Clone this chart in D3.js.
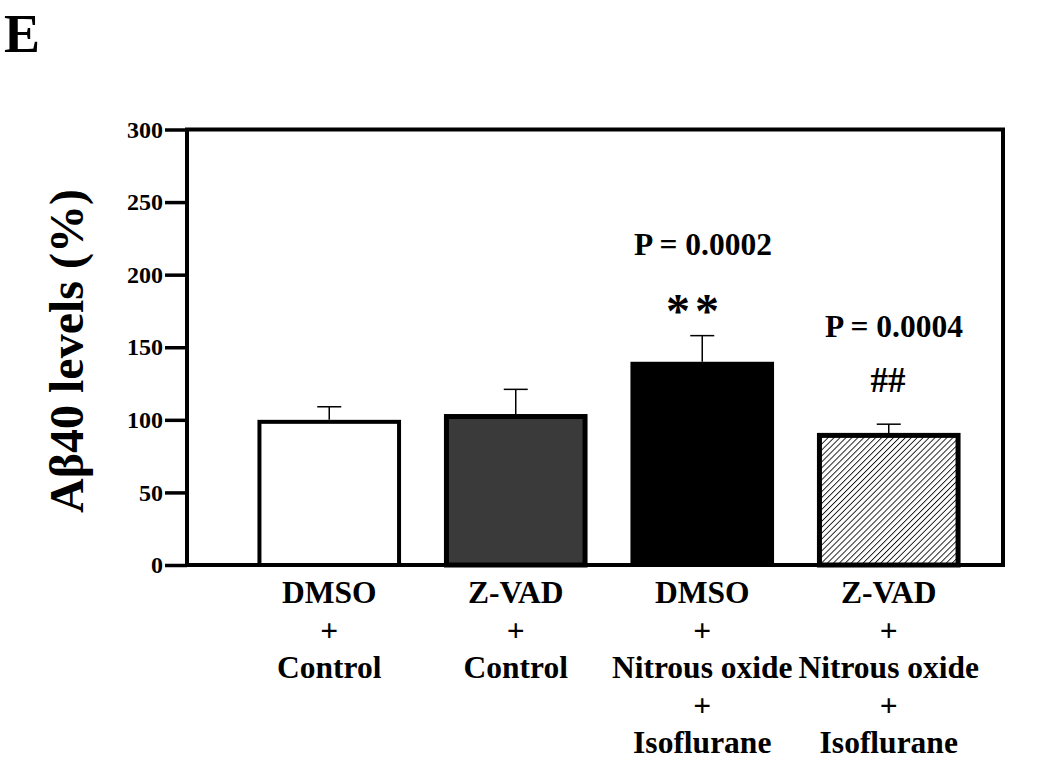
<!DOCTYPE html>
<html>
<head>
<meta charset="utf-8">
<script src="https://cdn.jsdelivr.net/npm/d3@7"></script>
<style>
  html, body { margin: 0; padding: 0; background: #fff; }
  svg text { font-family: "Liberation Serif", "Times New Roman", serif; font-weight: bold; fill: #000; }
</style>
</head>
<body>
<svg id="chart" width="1050" height="777"></svg>
<script>
// ---- data ----
const categories = ["DMSO+Control", "Z-VAD+Control", "DMSO+N2O+Iso", "Z-VAD+N2O+Iso"];
const categoryLabels = [
  ["DMSO", "+", "Control"],
  ["Z-VAD", "+", "Control"],
  ["DMSO", "+", "Nitrous oxide", "+", "Isoflurane"],
  ["Z-VAD", "+", "Nitrous oxide", "+", "Isoflurane"]
];
const means = [100, 104, 140, 91];
const errors = [9, 17, 18, 6];
const fills = ["#ffffff", "#3a3a3a", "#000000", "hatch"];
const pLabels = ["", "", "P = 0.0002", "P = 0.0004"];
const sigMarks = ["", "", "**", "##"];
const yTicks = [0, 50, 100, 150, 200, 250, 300];

// ---- layout ----
const svg = d3.select("#chart");
const frame = { left: 187, right: 1003, top: 129.5, bottom: 565 };

const y = d3.scaleLinear().domain([0, 300]).range([frame.bottom, frame.top]);
const x = d3.scaleBand().domain(categories).range([236, 982]).paddingInner(0.23).paddingOuter(0.115);

// hatch pattern
const defs = svg.append("defs");
const pat = defs.append("pattern")
  .attr("id", "hatch").attr("patternUnits", "userSpaceOnUse")
  .attr("width", 4.2).attr("height", 4.2)
  .attr("patternTransform", "rotate(45)");
pat.append("rect").attr("width", 4.2).attr("height", 4.2).attr("fill", "#ffffff");
pat.append("line").attr("x1", 0).attr("y1", 0).attr("x2", 0).attr("y2", 4.2)
  .attr("stroke", "#111").attr("stroke-width", 1.8);

// panel label
svg.append("text").attr("x", 4).attr("y", 52).style("font-size", "54px").text("E");

// bars
const strokeW = [4, 5, 4, 5];
categories.forEach((c, i) => {
  const sw = strokeW[i];
  const bx = x(c) + sw / 2;
  const bw = x.bandwidth() - sw;
  const top = y(means[i]) + sw / 2;
  svg.append("rect")
    .attr("x", bx).attr("y", top)
    .attr("width", bw).attr("height", y(0) - top)
    .attr("fill", fills[i] === "hatch" ? "url(#hatch)" : fills[i])
    .attr("stroke", "#000").attr("stroke-width", sw);
  // error bar (upper only)
  const cx = x(c) + x.bandwidth() / 2;
  svg.append("line")
    .attr("x1", cx).attr("x2", cx)
    .attr("y1", y(means[i])).attr("y2", y(means[i] + errors[i]))
    .attr("stroke", "#000").attr("stroke-width", 1.5);
  svg.append("line")
    .attr("x1", cx - 12).attr("x2", cx + 12)
    .attr("y1", y(means[i] + errors[i])).attr("y2", y(means[i] + errors[i]))
    .attr("stroke", "#000").attr("stroke-width", 1.5);
});

// frame
svg.append("rect")
  .attr("x", frame.left).attr("y", frame.top)
  .attr("width", frame.right - frame.left).attr("height", frame.bottom - frame.top)
  .attr("fill", "none").attr("stroke", "#000").attr("stroke-width", 4);

// y axis
const yAxis = d3.axisLeft(y).tickValues(yTicks).tickSize(22).tickPadding(2).tickFormat(d3.format("d"));
const ya = svg.append("g").attr("transform", `translate(${frame.left},0)`).call(yAxis);
ya.select(".domain").remove();
ya.selectAll(".tick line").attr("stroke", "#000").attr("stroke-width", 3.5);
ya.selectAll(".tick text").style("font-size", "24px").style("font-family", "Liberation Serif").style("font-weight", "bold").attr("fill", "#000");

// y label
svg.append("text")
  .attr("transform", "translate(83,351) rotate(-90)")
  .attr("text-anchor", "middle")
  .style("font-size", "48px")
  .text("Aβ40 levels (%)");

// category labels
categories.forEach((c, i) => {
  const cx = x(c) + x.bandwidth() / 2;
  const t = svg.append("text").attr("text-anchor", "middle").style("font-size", "31.5px");
  categoryLabels[i].forEach((line, j) => {
    t.append("tspan").attr("x", cx).attr("y", 603 + j * 37.5).text(line);
  });
});

// annotations
const pY = [0, 0, 255, 337];
const sigY = [0, 0, 327, 392];
const pX = [0, 0, 703, 894];
const sigX = [0, 0, 695, 888];
categories.forEach((c, i) => {
  if (pLabels[i]) {
    svg.append("text").attr("x", pX[i]).attr("y", pY[i]).attr("text-anchor", "middle")
      .style("font-size", "31.5px").text(pLabels[i]);
  }
  if (sigMarks[i]) {
    svg.append("text").attr("x", sigX[i]).attr("y", sigY[i]).attr("text-anchor", "middle")
      .style("font-size", sigMarks[i] === "**" ? "48px" : "35px")
      .style("letter-spacing", sigMarks[i] === "**" ? "5px" : "0px")
      .text(sigMarks[i]);
  }
});
</script>
</body>
</html>
